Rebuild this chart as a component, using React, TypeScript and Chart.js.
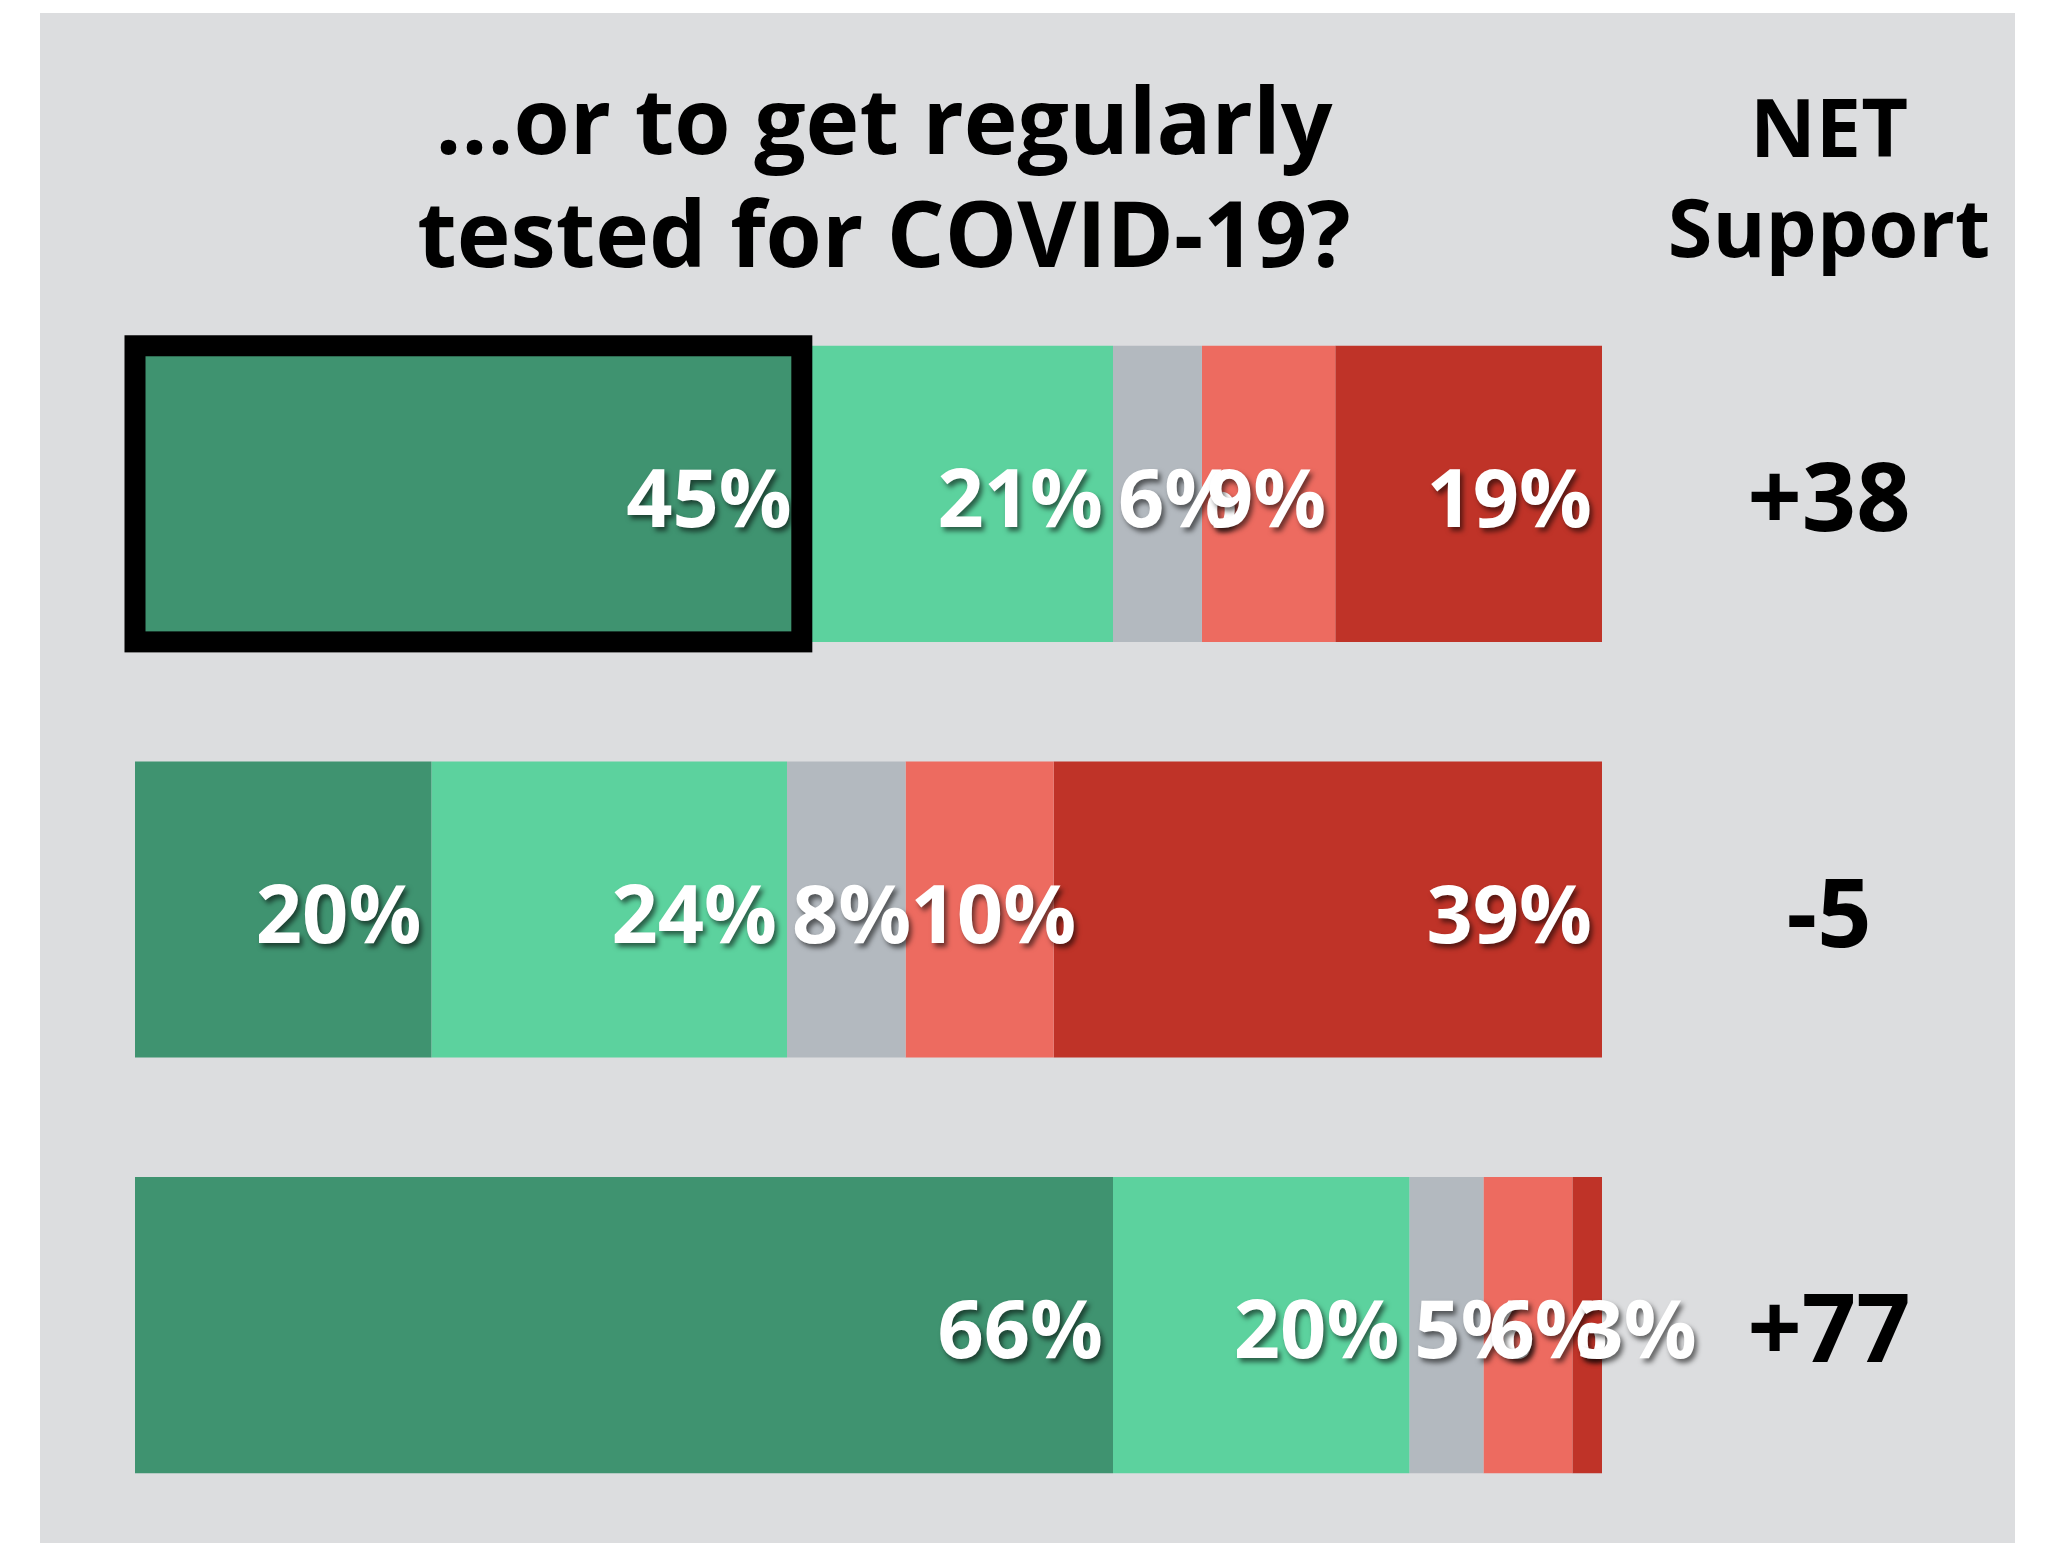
import React, { useEffect, useRef } from "react";
import { Chart, registerables } from "chart.js";

Chart.register(...registerables);

// ---- data ----
const categories = ["Row 1", "Row 2", "Row 3"];
const seriesNames = [
  "Strongly support",
  "Somewhat support",
  "Not sure",
  "Somewhat oppose",
  "Strongly oppose",
];
const strongSupport = [45, 20, 66];
const someSupport = [21, 24, 20];
const notSure = [6, 8, 5];
const someOppose = [9, 10, 6];
const strongOppose = [19, 39, 3];
const axisMax = 99;
const seriesColors = ["#3f9370", "#5cd29e", "#b3b9bf", "#ed6b60", "#bf3328"];
const titleLines = ["...or to get regularly", "tested for COVID-19?"];
const netHeaderLines = ["NET", "Support"];
const highlighted = { dataset: 0, index: 0 };

const FONT = "'Open Sans', 'DejaVu Sans', sans-serif";

export default function App() {
  const ref = useRef<HTMLCanvasElement | null>(null);

  useEffect(() => {
    const canvas = ref.current;
    if (!canvas) return;
    const series = [strongSupport, someSupport, notSure, someOppose, strongOppose];
    const net = categories.map(
      (_, i) => strongSupport[i] + someSupport[i] - someOppose[i] - strongOppose[i]
    );

    const datasets = series.map((arr, k) => ({
      label: seriesNames[k],
      data: arr,
      backgroundColor: seriesColors[k],
      borderWidth: 0,
      categoryPercentage: 1,
      barPercentage: 0.7124,
      clip: 0,
    }));

    const overlay = {
      id: "overlay",
      afterDatasetsDraw(chart: any) {
        const ctx = chart.ctx as CanvasRenderingContext2D;
        const area = chart.chartArea;

        // highlight box around one segment
        const hEl: any = chart.getDatasetMeta(highlighted.dataset).data[highlighted.index];
        ctx.save();
        ctx.strokeStyle = "#000";
        ctx.lineWidth = 21;
        ctx.strokeRect(hEl.base, hEl.y - hEl.height / 2, hEl.x - hEl.base, hEl.height);
        ctx.restore();

        // segment labels
        ctx.save();
        ctx.font = `bold 81px ${FONT}`;
        ctx.textAlign = "left";
        ctx.textBaseline = "alphabetic";
        ctx.fillStyle = "#ffffff";
        ctx.shadowColor = "rgba(0,0,0,0.55)";
        ctx.shadowOffsetX = 3;
        ctx.shadowOffsetY = 4;
        ctx.shadowBlur = 5;
        series.forEach((arr, k) => {
          const meta = chart.getDatasetMeta(k);
          meta.data.forEach((el: any, i: number) => {
            const text = `${arr[i]}%`;
            const w = ctx.measureText(text).width;
            const end = Math.min(el.x, area.right);
            const left = Math.max(el.base + 5, end - 10 - w);
            ctx.fillText(text, left, el.y + 33);
          });
        });
        ctx.restore();

        // title
        ctx.save();
        ctx.fillStyle = "#000";
        ctx.textAlign = "center";
        ctx.textBaseline = "alphabetic";
        ctx.font = `bold 91px ${FONT}`;
        ctx.fillText(titleLines[0], 844, 141);
        ctx.fillText(titleLines[1], 844, 254);

        // NET Support header
        ctx.font = `bold 81px ${FONT}`;
        ctx.fillText(netHeaderLines[0], 1789, 144);
        ctx.fillText(netHeaderLines[1], 1789, 244);

        // net values
        ctx.font = `bold 95px ${FONT}`;
        const meta0 = chart.getDatasetMeta(0);
        meta0.data.forEach((el: any, i: number) => {
          const n = net[i];
          const text = n > 0 ? `+${n}` : `${n}`;
          ctx.fillText(text, 1789, el.y + 37);
        });
        ctx.restore();
      },
    };

    const chart = new Chart(canvas, {
      type: "bar",
      data: { labels: categories, datasets },
      options: {
        indexAxis: "y",
        responsive: false,
        animation: false,
        devicePixelRatio: 1,
        layout: { padding: { left: 95, right: 413, top: 273, bottom: 10 } },
        scales: {
          x: { stacked: true, display: false, min: 0, max: axisMax },
          y: { stacked: true, display: false },
        },
        plugins: {
          legend: { display: false },
          tooltip: { enabled: false },
          title: { display: false },
        },
      },
      plugins: [overlay],
    } as any);

    return () => chart.destroy();
  }, []);

  return (
    <div
      style={{
        position: "absolute",
        left: 0,
        top: 0,
        width: 2045,
        height: 1543,
        background: "#ffffff",
        overflow: "hidden",
      }}
    >
      <div
        style={{
          position: "absolute",
          left: 40,
          top: 13,
          width: 1975,
          height: 1530,
          background: "#dcdddf",
        }}
      >
        <canvas ref={ref} width={1975} height={1530} style={{ display: "block" }} />
      </div>
    </div>
  );
}
